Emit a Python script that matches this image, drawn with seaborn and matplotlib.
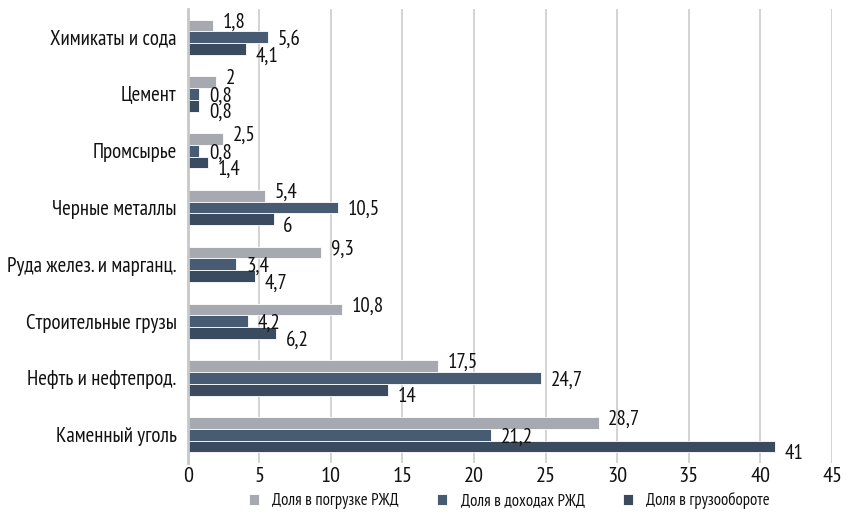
import matplotlib
matplotlib.use("Agg")
import matplotlib.pyplot as plt
import seaborn as sns
import pandas as pd

categories = ["Химикаты и сода", "Цемент", "Промсырье", "Черные металлы",
              "Руда желез. и марганц.", "Строительные грузы",
              "Нефть и нефтепрод.", "Каменный уголь"]
series_names = ["Доля в погрузке РЖД", "Доля в доходах РЖД", "Доля в грузообороте"]
loading = [1.8, 2, 2.5, 5.4, 9.3, 10.8, 17.5, 28.7]
revenue = [5.6, 0.8, 0.8, 10.5, 3.4, 4.2, 24.7, 21.2]
turnover = [4.1, 0.8, 1.4, 6, 4.7, 6.2, 14, 41]
x_ticks = [0, 5, 10, 15, 20, 25, 30, 35, 40, 45]

colors = ["#a4a9b2", "#405a7a", "#344a65"]

sns.set_theme(style="white")
plt.rcParams["font.family"] = ["PT Sans Narrow", "DejaVu Sans"]

rows = []
for name, vals in zip(series_names, [loading, revenue, turnover]):
    for cat, v in zip(categories, vals):
        rows.append({"cat": cat, "series": name, "value": v})
df = pd.DataFrame(rows)

fig = plt.figure(figsize=(8.49, 5.18), dpi=100)
ax = fig.add_axes([0.221, 0.106, 0.759, 0.877])

sns.barplot(data=df, y="cat", x="value", hue="series", order=categories,
            hue_order=series_names, palette=colors, orient="h", width=0.62,
            edgecolor="white", linewidth=0.6, ax=ax, legend=True)

# value labels; vertical offsets (points) spread the three labels of a group apart
nudges = [2.5, -1.5, -5.0]
for container, dy in zip(ax.containers, nudges):
    labels = [f"{v:g}".replace(".", ",") for v in container.datavalues]
    texts = ax.bar_label(container, labels=labels, padding=7, fontsize=15, color="#111111")
    for t in texts:
        t.xyann = (7, dy)

ax.set_xlim(0, 45)
ax.set_xticks(x_ticks)
ax.set_xticklabels([str(t) for t in x_ticks], fontsize=16)
ax.tick_params(axis="y", labelsize=15, length=0, pad=8, labelcolor="#111111")
ax.tick_params(axis="x", length=0, pad=3, labelcolor="#111111")
ax.set_xlabel("")
ax.set_ylabel("")
ax.grid(axis="x", color="#cccccc", linewidth=1.2)
ax.set_axisbelow(True)
for side in ["top", "right", "bottom"]:
    ax.spines[side].set_visible(False)
ax.spines["left"].set_color("#c8c8c8")
ax.spines["left"].set_linewidth(2)

handles, lbls = ax.get_legend_handles_labels()
ax.legend_.remove()
fig.legend(handles, lbls, loc="lower center", bbox_to_anchor=(0.60, -0.012), ncol=3,
           frameon=False, fontsize=12, handlelength=0.6, handleheight=0.6,
           columnspacing=2.3, handletextpad=0.8, labelcolor="#111111")

fig.savefig("out.png", dpi=100)
